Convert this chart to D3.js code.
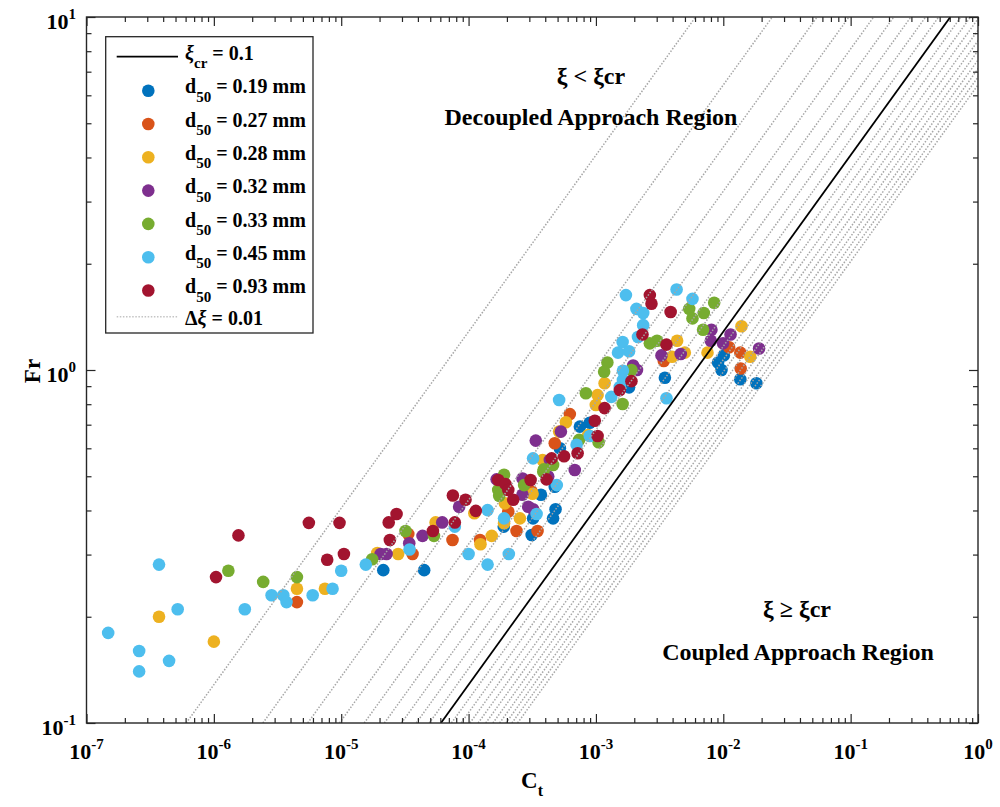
<!DOCTYPE html>
<html><head><meta charset="utf-8">
<script src="https://cdn.jsdelivr.net/npm/d3@7"></script>
<style>
body{margin:0;background:#fff}
text{font-family:"Liberation Serif","Times New Roman",serif;font-weight:bold;fill:#000}
</style>
</head><body><svg id="c" width="1000" height="807"></svg>
<script>
// ---------- data (Ct, Fr) ----------
const names = ["0.19","0.27","0.28","0.32","0.33","0.45","0.93"];
const colors = ["#0072BD","#D95319","#EDB120","#7E2F8E","#77AC30","#4DBEEE","#A2142F"];
const d019 = [[2.14e-5,0.271],[4.48e-5,0.271],[1.89e-4,0.360],[3.13e-4,0.341],[3.21e-4,0.380],[4.61e-4,0.380],[4.82e-4,0.403],[3.70e-4,0.443],[7.48e-4,0.691],[8.95e-4,0.709],[5.21e-4,0.600],[4.75e-4,0.467],[3.48e-3,0.951],[1.82e-3,0.893],[1.01e-2,1.10],[9.1e-3,1.05],[9.68e-3,1.00],[1.36e-2,0.941],[1.82e-2,0.917]];
const d027 = [[4.49e-6,0.220],[7.48e-5,0.330],[3.63e-5,0.301],[3.36e-5,0.343],[1.23e-4,0.330],[2.38e-4,0.350],[3.48e-4,0.350],[3.13e-4,0.452],[6.24e-4,0.750],[4.75e-4,0.620],[3.41e-3,1.06],[1.11e-2,1.16],[1.36e-2,1.12],[1.37e-2,1.01],[2.05e-4,0.397]];
const d028 = [[3.71e-7,0.200],[1.0e-6,0.170],[4.49e-6,0.240],[7.45e-6,0.240],[2.80e-5,0.301],[1.92e-5,0.303],[5.51e-5,0.370],[1.11e-4,0.393],[1.24e-4,0.321],[1.52e-4,0.339],[1.90e-4,0.368],[2.53e-4,0.380],[3.18e-4,0.446],[1.93e-4,0.419],[1.17e-3,0.917],[1.03e-3,0.849],[9.98e-4,0.796],[5.81e-4,0.711],[5.14e-4,0.669],[3.81e-4,0.556],[8.69e-4,0.654],[4.34e-3,1.21],[3.96e-3,1.09],[4.99e-3,1.12],[7.52e-3,1.12],[1.39e-2,1.33],[1.63e-2,1.09]];
const d032 = [[4.35e-5,0.339],[6.21e-5,0.370],[8.43e-5,0.410],[3.42e-5,0.323],[2.04e-5,0.301],[2.27e-5,0.301],[2.65e-4,0.493],[1.66e-4,0.490],[2.65e-4,0.443],[2.94e-4,0.410],[3.21e-4,0.403],[4.22e-4,0.499],[3.37e-4,0.631],[5.31e-4,0.669],[6.82e-4,0.521],[4.35e-4,0.556],[1.96e-3,1.03],[2.10e-3,1.00],[3.27e-3,1.10],[4.63e-3,1.11],[8.07e-3,1.30],[7.98e-3,1.21],[9.95e-3,1.19],[1.14e-2,1.26],[1.91e-2,1.15]];
const d033 = [[1.30e-6,0.270],[2.44e-6,0.251],[4.49e-6,0.259],[3.2e-5,0.350],[1.75e-5,0.291],[5.35e-5,0.339],[1.90e-4,0.505],[1.71e-4,0.457],[1.74e-4,0.440],[2.73e-4,0.472],[3.86e-4,0.515],[8.34e-4,0.859],[1.62e-3,0.801],[7.38e-4,0.634],[1.05e-3,0.624],[3.90e-4,0.523],[4.61e-4,0.538],[1.23e-3,1.05],[1.16e-3,0.989],[8.48e-3,1.55],[5.40e-3,1.49],[5.73e-3,1.40],[7.03e-3,1.45],[6.94e-3,1.30],[2.65e-3,1.19],[3.02e-3,1.21],[1.90e-3,1.00]];
const d045 = [[1.48e-7,0.180],[2.59e-7,0.160],[2.59e-7,0.140],[4.45e-7,0.150],[3.71e-7,0.281],[5.2e-7,0.210],[1.75e-6,0.210],[2.84e-6,0.230],[3.51e-6,0.230],[3.72e-6,0.220],[5.97e-6,0.230],[8.55e-6,0.240],[1.0e-5,0.270],[1.56e-5,0.281],[3.44e-5,0.310],[1.0e-4,0.301],[1.41e-4,0.281],[1.41e-4,0.401],[2.07e-4,0.301],[1.90e-4,0.380],[3.42e-4,0.391],[7.8e-5,0.360],[4.93e-4,0.472],[5.14e-4,0.822],[3.21e-4,0.562],[7.05e-4,0.614],[8.95e-4,0.650],[1.32e-3,0.839],[1.54e-3,0.895],[3.58e-3,0.832],[1.72e-3,1.63],[1.62e-3,1.20],[1.49e-3,1.12],[1.82e-3,1.13],[2.08e-3,1.49],[2.35e-3,1.45],[2.35e-3,1.34],[2.14e-3,1.24],[1.63e-3,0.995],[4.30e-3,1.69],[5.73e-3,1.59],[1.63e-3,0.937]];
const d093 = [[1.56e-6,0.340],[5.57e-6,0.369],[9.7e-6,0.369],[1.04e-6,0.259],[7.76e-6,0.290],[1.05e-5,0.301],[2.72e-5,0.391],[2.36e-5,0.370],[2.41e-5,0.330],[5.25e-5,0.350],[7.53e-5,0.441],[9.46e-5,0.429],[7.8e-5,0.370],[1.14e-4,0.399],[1.71e-4,0.488],[1.95e-4,0.475],[2.05e-4,0.457],[2.24e-4,0.429],[3.07e-4,0.488],[4.09e-4,0.490],[1.17e-3,0.780],[1.54e-3,0.877],[1.90e-3,0.930],[9.8e-4,0.718],[1.03e-3,0.650],[5.62e-4,0.570],[7.18e-4,0.581],[4.49e-4,0.562],[2.65e-3,1.63],[2.73e-3,1.54],[3.86e-3,1.46],[2.32e-3,1.26],[3.58e-3,1.18]];
const seriesData = [d019,d027,d028,d032,d033,d045,d093];

// guide lines: xi = K*sqrt(Ct)/Fr
const K = 1.284;
const xiCrit = 0.1;
const xiGuides = [0.01,0.02,0.03,0.04,0.05,0.06,0.07,0.08,0.09,0.11,0.12,0.13,0.14,0.15,0.16,0.17,0.18,0.19,0.20];
const frRange = [0.1, 10];

// tick values
const xMajor = [1e-7,1e-6,1e-5,1e-4,1e-3,1e-2,1e-1,1];
const xExp = ["-7","-6","-5","-4","-3","-2","-1","0"];
const yMajor = [0.1,1,10];
const yExp = ["-1","0","1"];

// ---------- drawing ----------
const L=86.5, R=978, T=17, B=723;
const svg = d3.select("#c");
const x = d3.scaleLog().domain([1e-7,1]).range([L,R]);
const y = d3.scaleLog().domain([0.1,10]).range([B,T]);
const minors = (maj) => { const a=[]; maj.slice(0,-1).forEach(m=>{for(let k=2;k<=9;k++) a.push(m*k);}); return a; };
const dotted = {stroke:"#a6a6a6", width:1.5, dash:"1.5,1.6"};

svg.append("clipPath").attr("id","clip").append("rect")
  .attr("x",L).attr("y",T).attr("width",R-L).attr("height",B-T);
const plot = svg.append("g").attr("clip-path","url(#clip)");

seriesData.forEach((data,i)=>{
  plot.append("g").selectAll("circle").data(data).join("circle")
    .attr("cx",d=>x(d[0])).attr("cy",d=>y(d[1])).attr("r",6.3).attr("fill",colors[i]);
});

const line = d3.line().x(d=>x(d[0])).y(d=>y(d[1]));
const guide = xi => frRange.map(f=>[Math.pow(xi*f/K,2), f]);
xiGuides.forEach(xi=>{
  plot.append("path").attr("d",line(guide(xi))).attr("fill","none")
    .attr("stroke",dotted.stroke).attr("stroke-width",dotted.width).attr("stroke-dasharray",dotted.dash);
});
plot.append("path").attr("d",line(guide(xiCrit))).attr("fill","none")
  .attr("stroke","#000").attr("stroke-width",1.8);

// axes ticks (inside, mirrored)
function ticks(axisFn, scale, vals, size, tr){
  svg.append("g").attr("transform",tr)
    .call(axisFn(scale).tickValues(vals).tickSize(size).tickSizeOuter(0).tickFormat(""))
    .call(g=>g.select(".domain").remove())
    .selectAll("line").attr("stroke","#262626").attr("stroke-width",1.2);
}
[[d3.axisBottom,`translate(0,${B})`],[d3.axisTop,`translate(0,${T})`]].forEach(([f,tr])=>{
  ticks(f,x,xMajor,-9,tr); ticks(f,x,minors(xMajor),-5,tr);
});
[[d3.axisLeft,`translate(${L},0)`],[d3.axisRight,`translate(${R},0)`]].forEach(([f,tr])=>{
  ticks(f,y,yMajor,-9,tr); ticks(f,y,minors(yMajor),-5,tr);
});
svg.append("rect").attr("x",L).attr("y",T).attr("width",R-L).attr("height",B-T)
  .attr("fill","none").attr("stroke","#262626").attr("stroke-width",1.4);

// tick labels
xMajor.forEach((v,i)=>{
  const t = svg.append("text").attr("x",x(v)).attr("y",759).attr("text-anchor","middle").style("font-size","22px");
  t.append("tspan").text("10");
  t.append("tspan").attr("dy",-10).style("font-size","15px").text(xExp[i]);
});
yMajor.forEach((v,i)=>{
  const t = svg.append("text").attr("x",76).attr("y",y(v)+12).attr("text-anchor","end").style("font-size","22px");
  t.append("tspan").text("10");
  t.append("tspan").attr("dy",-10).style("font-size","15px").text(yExp[i]);
});

// axis titles
const xt = svg.append("text").attr("x",521).attr("y",788).style("font-size","23px");
xt.append("tspan").text("C");
xt.append("tspan").attr("dy",8).style("font-size","16px").text("t");
svg.append("text").attr("transform","translate(40,371) rotate(-90)").attr("text-anchor","middle")
  .style("font-size","23px").text("Fr");

// region annotations
function anno(cx, by, txt){
  svg.append("text").attr("x",cx).attr("y",by).attr("text-anchor","middle").style("font-size","24px").text(txt);
}
anno(591, 84, "ξ < ξcr");
anno(591, 125, "Decoupled Approach Region");
anno(797, 617, "ξ ≥ ξcr");
anno(798, 660, "Coupled Approach Region");

// legend
const lg = svg.append("g");
lg.append("rect").attr("x",105.7).attr("y",36.7).attr("width",207.3).attr("height",296.3)
  .attr("fill","#fff").attr("stroke","#262626").attr("stroke-width",1.3);
lg.append("line").attr("x1",116.7).attr("x2",178).attr("y1",56.7).attr("y2",56.7).attr("stroke","#000").attr("stroke-width",1.8);
{
  const t = lg.append("text").attr("x",185).attr("y",60).style("font-size","20px");
  t.append("tspan").style("font-style","italic").text("ξ");
  t.append("tspan").attr("dy",8).style("font-size","15px").text("cr");
  t.append("tspan").attr("dy",-8).text(" = 0.1");
}
names.forEach((n,i)=>{
  const cy = 90.7 + 33.3*i;
  lg.append("circle").attr("cx",148.3).attr("cy",cy).attr("r",6.3).attr("fill",colors[i]);
  const t = lg.append("text").attr("x",185).attr("y",cy+2.6).style("font-size","20px");
  t.append("tspan").text("d");
  t.append("tspan").attr("dy",8.4).style("font-size","15px").text("50");
  t.append("tspan").attr("dy",-8.4).text(` = ${n} mm`);
});
lg.append("line").attr("x1",116.7).attr("x2",178).attr("y1",316.7).attr("y2",316.7)
  .attr("stroke","#c4c4c4").attr("stroke-width",dotted.width).attr("stroke-dasharray",dotted.dash);
{
  const t = lg.append("text").attr("x",185).attr("y",325).style("font-size","20px");
  t.append("tspan").text("Δ");
  t.append("tspan").style("font-style","italic").text("ξ");
  t.append("tspan").text(" = 0.01");
}
</script></body></html>
